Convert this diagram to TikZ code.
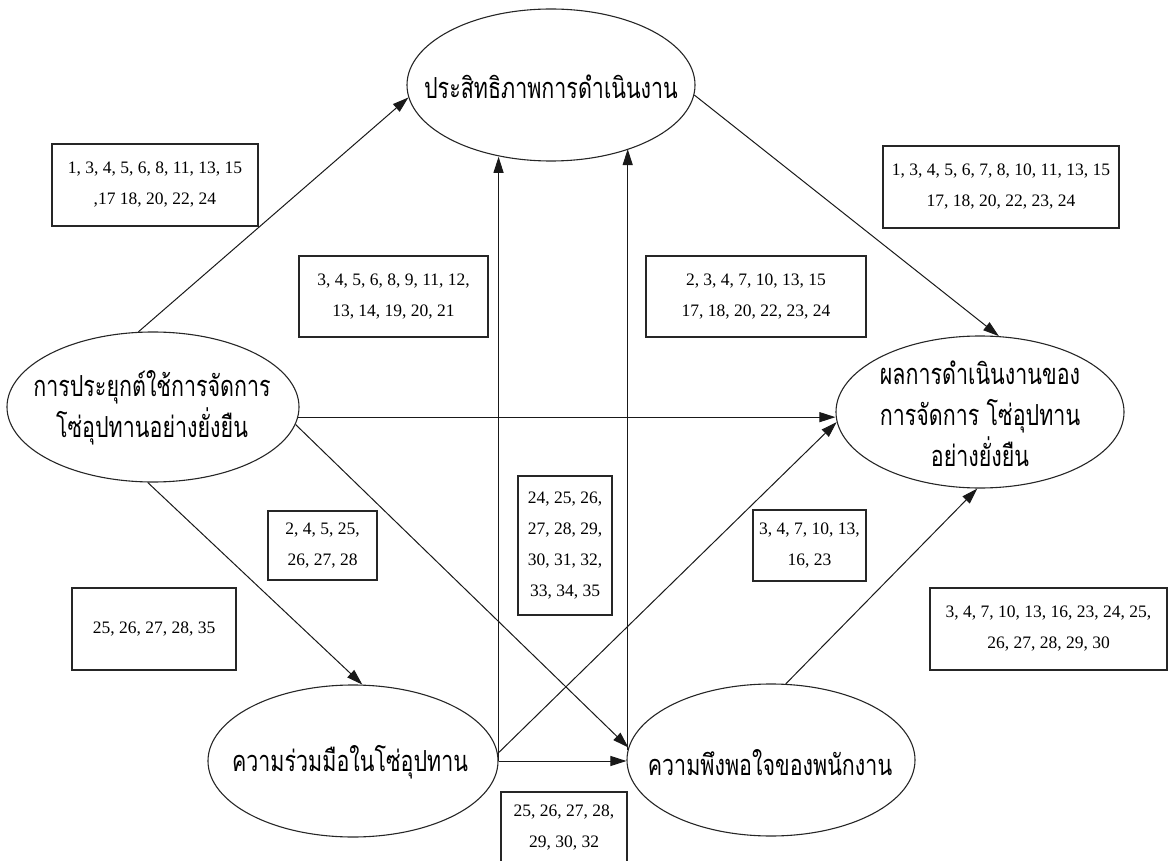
\documentclass[tikz,border=0pt]{standalone}
\usepackage{fontspec}
\setmainfont{Liberation Serif}
\newfontfamily\thaifont[Script=Thai,FakeStretch=0.74]{Loma}
\usetikzlibrary{shapes.geometric,arrows.meta}
\begin{document}
\begin{tikzpicture}[x=1pt,y=-1pt,
  ell/.style={draw=black!85, line width=1.1pt, ellipse, inner sep=0pt},
  lbl/.style={draw=black!85, line width=1.3pt, rectangle, inner sep=0pt, align=center,
              font=\fontsize{17.5}{31}\selectfont},
  th/.style={align=center, inner sep=0pt, font=\thaifont\fontsize{29}{41}\selectfont},
  arr/.style={draw=black!90, line width=1pt, -{Triangle[length=16pt,width=10pt]}}]
\useasboundingbox (0,0) rectangle (1168,861);
% ellipses
\node[ell, minimum width=288pt, minimum height=152pt] (e1) at (551,85) {};
\node[ell, minimum width=292pt, minimum height=150pt] (e2) at (153,407) {};
\node[ell, minimum width=288pt, minimum height=152pt] (e3) at (980,412) {};
\node[ell, minimum width=290pt, minimum height=152pt] (e4) at (353,761) {};
\node[ell, minimum width=288pt, minimum height=152pt] (e5) at (771,760) {};
% ellipse texts
\node[th] (t1) at (551,87) {ประสิทธิภาพการดำเนินงาน};
\node[th] (t2) at (152,408) {การประยุกต์ใช้การจัดการ\\โซ่อุปทานอย่างยั่งยืน};
\node[th] (t3) at (980,414) {ผลการดำเนินงานของ\\การจัดการ โซ่อุปทาน\\อย่างยั่งยืน};
\node[th] (t4) at (350,762) {ความร่วมมือในโซ่อุปทาน};
\node[th] (t5) at (770,763) {ความพึงพอใจของพนักงาน};
% label boxes
\node[lbl, minimum width=206pt, minimum height=82pt] (b1) at (155,185) {1, 3, 4, 5, 6, 8, 11, 13, 15\\,17 18, 20, 22, 24};
\node[lbl, minimum width=189pt, minimum height=81pt] (b2) at (393.5,296.5) {3, 4, 5, 6, 8, 9, 11, 12,\\13, 14, 19, 20, 21};
\node[lbl, minimum width=236pt, minimum height=82pt] (b3) at (1001,187) {1, 3, 4, 5, 6, 7, 8, 10, 11, 13, 15\\17, 18, 20, 22, 23, 24};
\node[lbl, minimum width=220pt, minimum height=81pt] (b4) at (756,296.5) {2, 3, 4, 7, 10, 13, 15\\17, 18, 20, 22, 23, 24};
\node[lbl, minimum width=109pt, minimum height=69pt] (b5) at (322.5,545.5) {2, 4, 5, 25,\\26, 27, 28};
\node[lbl, minimum width=164pt, minimum height=82pt] (b6) at (154,629) {25, 26, 27, 28, 35};
\node[lbl, minimum width=94pt, minimum height=139pt] (b7) at (565,545.5) {24, 25, 26,\\27, 28, 29,\\30, 31, 32,\\33, 34, 35};
\node[lbl, minimum width=113pt, minimum height=71pt] (b8) at (809.5,545.5) {3, 4, 7, 10, 13,\\16, 23};
\node[lbl, minimum width=237pt, minimum height=82pt] (b9) at (1048.5,629) {3, 4, 7, 10, 13, 16, 23, 24, 25,\\26, 27, 28, 29, 30};
\node[lbl, minimum width=126pt, minimum height=72pt] (b10) at (564,828) {25, 26, 27, 28,\\29, 30, 32};
% connectors
\draw[arr] (e2.101) -- (e1.185);
\draw[arr] (e2.356) -- (e2.356 -| e3.west);
\draw[arr] (e2.266) -- (e4.83);
\draw[arr] (e2.353) -- (e5.175);
\draw[arr] (e4.east) -- (e4.east |- e1.235);
\draw[arr] (e5.176) -- (e5.176 |- e1.321);
\draw[arr] (e4.3) -- (e3.184);
\draw[arr] (e4.east) -- (e4.east -| e5.west);
\draw[arr] (e5.79) -- (e3.268);
\draw[arr] (e1.356) -- (e3.76);
\end{tikzpicture}
\end{document}
